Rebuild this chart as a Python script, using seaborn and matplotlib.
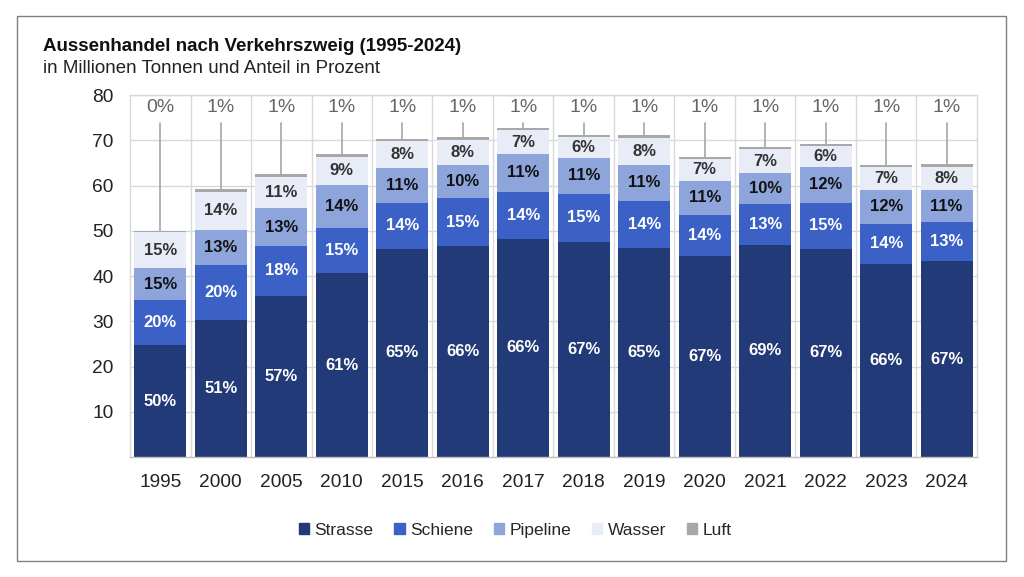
import numpy as np
import pandas as pd
import matplotlib.pyplot as plt
import matplotlib.patches as mpatches
from matplotlib.ticker import FixedLocator
import seaborn as sns

years = ['1995', '2000', '2005', '2010', '2015', '2016', '2017', '2018',
         '2019', '2020', '2021', '2022', '2023', '2024']

# Millionen Tonnen je Verkehrszweig
strasse = [24.7, 30.3, 35.6, 40.6, 46.1, 46.6, 48.3, 47.6, 46.3, 44.4, 46.9, 46.1, 42.7, 43.3]
schiene = [10.0, 12.2, 11.1, 10.0, 10.0, 10.7, 10.4, 10.5, 10.3, 9.2, 9.1, 10.1, 8.9, 8.6]
pipeline = [7.1, 7.7, 8.3, 9.5, 7.9, 7.2, 8.2, 8.1, 8.0, 7.4, 6.8, 8.0, 7.5, 7.1]
wasser = [7.9, 8.4, 6.9, 6.3, 5.8, 5.7, 5.4, 4.5, 6.0, 5.0, 5.3, 4.5, 5.0, 5.2]
luft = [0.2, 0.6, 0.6, 0.5, 0.6, 0.5, 0.5, 0.6, 0.5, 0.4, 0.4, 0.5, 0.5, 0.5]

# Anteile in Prozent (wie beschriftet)
pct_strasse = [50, 51, 57, 61, 65, 66, 66, 67, 65, 67, 69, 67, 66, 67]
pct_schiene = [20, 20, 18, 15, 14, 15, 14, 15, 14, 14, 13, 15, 14, 13]
pct_pipeline = [15, 13, 13, 14, 11, 10, 11, 11, 11, 11, 10, 12, 12, 11]
pct_wasser = [15, 14, 11, 9, 8, 8, 7, 6, 8, 7, 7, 6, 7, 8]
pct_luft = [0, 1, 1, 1, 1, 1, 1, 1, 1, 1, 1, 1, 1, 1]

names = ['Strasse', 'Schiene', 'Pipeline', 'Wasser', 'Luft']
colors = ['#233a78', '#3b61c6', '#8ea5dc', '#e7ecf7', '#a8a8a8']
label_colors = ['white', 'white', '#111111', '#333333']

df = pd.DataFrame({'Jahr': years, 'Strasse': strasse, 'Schiene': schiene,
                   'Pipeline': pipeline, 'Wasser': wasser, 'Luft': luft})
cum = df[names].cumsum(axis=1)

sns.set_theme(style='white')
plt.rcParams['font.family'] = ['Liberation Sans', 'DejaVu Sans']

fig = plt.figure(figsize=(10.24, 5.77), dpi=100)
ax = fig.add_axes([0.127, 0.208, 0.827, 0.627])

# stacked bars: draw cumulative sums from top to bottom
for name, col in reversed(list(zip(names, colors))):
    sns.barplot(x=df['Jahr'], y=cum[name], color=col, width=0.86,
                saturation=1, linewidth=0, edgecolor='none', ax=ax, zorder=2)

ax.set_xlim(-0.5, len(years) - 0.5)
ax.set_ylim(0, 80)
ax.yaxis.set_major_locator(FixedLocator(range(10, 81, 10)))
ax.xaxis.set_minor_locator(FixedLocator(np.arange(0.5, len(years) - 0.5, 1)))
ax.grid(axis='y', which='major', color='#d9d9d9', lw=1, zorder=0)
ax.grid(axis='x', which='minor', color='#d9d9d9', lw=1, zorder=0)
ax.set_axisbelow(True)
for side, sp in ax.spines.items():
    sp.set_color('#d9d9d9')
    sp.set_linewidth(1)
ax.spines['bottom'].set_color('#bfbfbf')
ax.tick_params(axis='both', which='both', length=0, labelsize=13.8, colors='#222222')
ax.tick_params(axis='y', pad=12)
ax.tick_params(axis='x', pad=12)
ax.set_xlabel('')
ax.set_ylabel('')

# segment labels
pcts = [pct_strasse, pct_schiene, pct_pipeline, pct_wasser]
for k, name in enumerate(names[:4]):
    bottoms = cum[name] - df[name]
    for i in range(len(years)):
        yc = bottoms[i] + df[name][i] / 2
        ax.text(i, yc, f'{pcts[k][i]}%', ha='center', va='center',
                fontsize=12, fontweight='bold', color=label_colors[k], zorder=5)

# Luft labels with leader lines
for i in range(len(years)):
    top = cum['Luft'][i]
    ax.text(i, 77.2, f'{pct_luft[i]}%', ha='center', va='center',
            fontsize=14, color='#666666', zorder=5)
    if top < 73.8:
        ax.plot([i, i], [73.8, top], color='#a6a6a6', lw=1.2, zorder=4)

fig.text(0.042, 0.92, 'Aussenhandel nach Verkehrszweig (1995-2024)',
         fontsize=13.5, fontweight='bold', color='#111111', va='center')
fig.text(0.042, 0.882, 'in Millionen Tonnen und Anteil in Prozent',
         fontsize=13.5, color='#222222', va='center')

handles = [mpatches.Patch(color=c, label=n) for n, c in zip(names, colors)]
fig.legend(handles=handles, loc='center', bbox_to_anchor=(0.503, 0.081),
           ncol=5, frameon=False, fontsize=12.5, handlelength=0.6,
           handleheight=0.6, handletextpad=0.3, columnspacing=1.2)

fig.patches.append(mpatches.Rectangle((0.0166, 0.028), 0.966, 0.944,
                                      transform=fig.transFigure, fill=False,
                                      edgecolor='#808080', lw=1))

fig.savefig('out.png', dpi=100)
